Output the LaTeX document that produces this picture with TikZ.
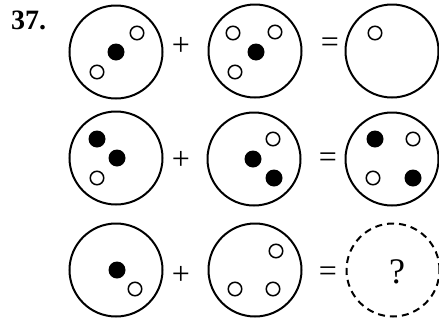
\documentclass[tikz,border=0pt]{standalone}
\usepackage{fontspec}
\setmainfont{Liberation Serif}
\usetikzlibrary{positioning}

\begin{document}
\begin{tikzpicture}[x=1pt, y=-1pt,
    ring/.style={draw, circle, line width=2pt, minimum size=93pt, inner sep=0pt},
    holed/.style={draw, circle, line width=1.5pt, minimum size=13.5pt, inner sep=0pt},
    full/.style={fill=black, circle, minimum size=17pt, inner sep=0pt},
    sign/.style={font=\fontsize{32}{32}\selectfont, inner sep=0pt}]
    \useasboundingbox (0,0) rectangle (439,327);
    \node[font=\fontsize{28}{28}\selectfont\bfseries, anchor=base west, inner sep=0pt] (num) at (11,29) {37.};
    % row 1
    \node[ring] (a1) at (116,52) {};
    \node[ring] (b1) at (255,51) {};
    \node[ring] (c1) at (392,51) {};
    \node[sign] (p1) at (181,46) {+};
    \node[sign] (e1) at (330,45) {=};
    \node[holed] at (137,33) {};
    \node[full] at (116,52) {};
    \node[holed] at (97,72) {};
    \node[holed] at (233,33) {};
    \node[holed] at (275,32) {};
    \node[full] at (256,52) {};
    \node[holed] at (235,72) {};
    \node[holed] at (375,33) {};
    % row 2
    \node[ring] (a2) at (116,158) {};
    \node[ring] (b2) at (254,159) {};
    \node[ring] (c2) at (392,159) {};
    \node[sign] (p2) at (181,160) {+};
    \node[sign] (e2) at (328,160) {=};
    \node[full] at (97,139) {};
    \node[full] at (117,158) {};
    \node[holed] at (97,178) {};
    \node[holed] at (273,139) {};
    \node[full] at (253,159) {};
    \node[full] at (274,178) {};
    \node[full] at (375,139) {};
    \node[holed] at (413,139) {};
    \node[holed] at (373,178) {};
    \node[full] at (413,178) {};
    % row 3
    \node[ring] (a3) at (116,270) {};
    \node[ring] (b3) at (255,270) {};
    \node[ring, dashed, dash pattern=on 7pt off 5pt] (c3) at (393,270) {};
    \node[sign] (p3) at (181,275) {+};
    \node[sign] (e3) at (328,274) {=};
    \node[full] at (117,270) {};
    \node[holed] at (135,289) {};
    \node[holed] at (276,251) {};
    \node[holed] at (235,289) {};
    \node[holed] at (273,289) {};
    \node[font=\fontsize{36}{36}\selectfont, inner sep=0pt] (q) at (397,272) {?};
\end{tikzpicture}
\end{document}
